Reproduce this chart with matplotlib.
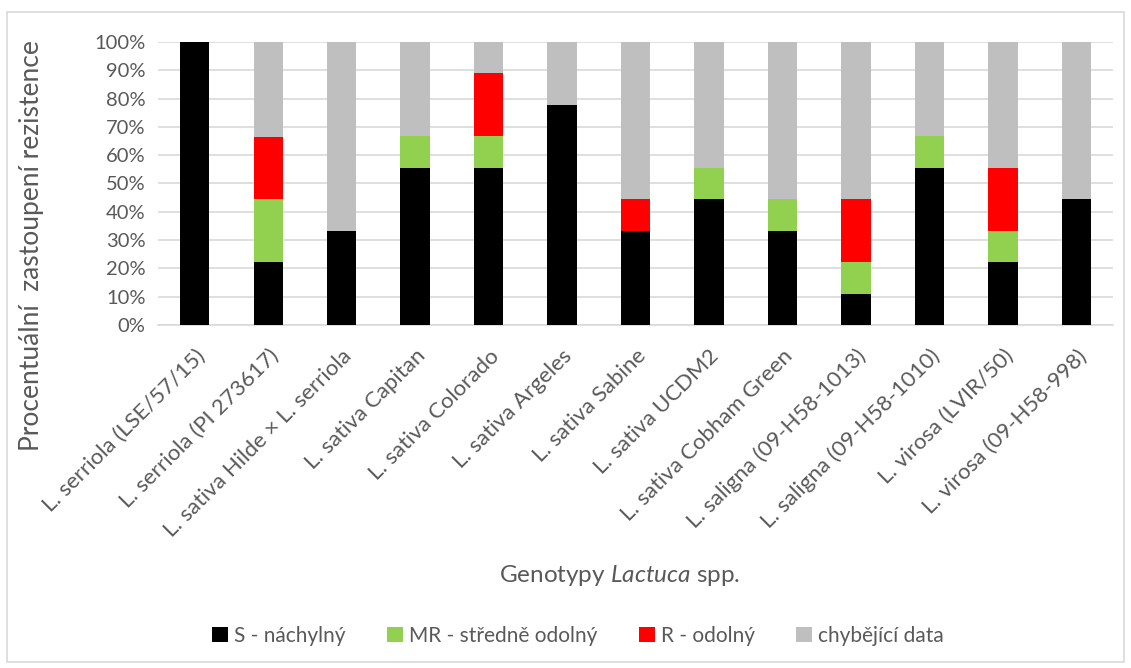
import matplotlib
matplotlib.use('Agg')
import matplotlib.pyplot as plt
import numpy as np
from matplotlib.patches import Rectangle

plt.rcParams['font.family'] = ['Lato', 'DejaVu Sans']
plt.rcParams['mathtext.fontset'] = 'custom'
plt.rcParams['mathtext.it'] = 'Lato:italic'
plt.rcParams['mathtext.rm'] = 'Lato'

genotypes = ['L. serriola (LSE/57/15)', 'L. serriola (PI 273617)',
             'L. sativa Hilde × L. serriola', 'L. sativa Capitan',
             'L. sativa Colorado', 'L. sativa Argeles', 'L. sativa Sabine',
             'L. sativa UCDM2', 'L. sativa Cobham Green',
             'L. saligna (09-H58-1013)', 'L. saligna (09-H58-1010)',
             'L. virosa (LVIR/50)', 'L. virosa (09-H58-998)']

# values in % (ninths)
s_nachylny = [100, 22.2, 33.3, 55.6, 55.6, 77.8, 33.3, 44.4, 33.3, 11.1, 55.6, 22.2, 44.4]
mr_odolny = [0, 22.2, 0, 11.1, 11.1, 0, 0, 11.1, 11.1, 11.1, 11.1, 11.1, 0]
r_odolny = [0, 22.2, 0, 0, 22.2, 0, 11.1, 0, 0, 22.2, 0, 22.2, 0]
chybejici = [0, 33.4, 66.7, 33.3, 11.1, 22.2, 55.6, 44.5, 55.6, 55.6, 33.3, 44.4, 55.6]

series = [('S - náchylný', s_nachylny, '#000000'),
          ('MR - středně odolný', mr_odolny, '#92D050'),
          ('R - odolný', r_odolny, '#FF0000'),
          ('chybějící data', chybejici, '#BFBFBF')]

txt = '#595959'
fig = plt.figure(figsize=(11.31, 6.68), dpi=100)
ax = fig.add_axes([158/1131, 1-325/668, 955/1131, 283/668])

x = np.arange(len(genotypes))
bottom = np.zeros(len(genotypes))
for name, vals, col in series:
    vals = np.array(vals) / 100
    ax.bar(x, vals, 0.4, bottom=bottom, color=col, label=name, zorder=3)
    bottom += vals

ax.set_xlim(-0.5, len(genotypes) - 0.5)
ax.set_ylim(0, 1)
ax.set_yticks(np.arange(0, 1.01, 0.1))
ax.set_yticklabels([f'{int(round(v*100))}%' for v in np.arange(0, 1.01, 0.1)])
ax.grid(axis='y', color='#D9D9D9', linewidth=1.2, zorder=0)
for sp in ax.spines.values():
    sp.set_visible(False)
ax.spines['bottom'].set_visible(True)
ax.spines['bottom'].set_color('#D9D9D9')
ax.spines['bottom'].set_linewidth(1.2)
ax.tick_params(axis='both', length=0, colors=txt)
ax.tick_params(axis='y', pad=9, labelsize=14.5)
ax.set_xticks(x)
ax.set_xticklabels(genotypes, rotation=45, ha='right', va='top', rotation_mode='anchor',
                   fontsize=16)
ax.tick_params(axis='x', pad=15)

fig.text(32/1131, 1 - 246/668, 'Procentuální  zastoupení rezistence', fontsize=19,
         color=txt, rotation=90, ha='center', va='center')
fig.text(620/1131, 1 - 575/668, r'Genotypy $\mathit{Lactuca}$ spp.', fontsize=17.5,
         color=txt, ha='center', va='center')

leg = fig.legend(loc='center', bbox_to_anchor=(578/1131, 1 - 636/668), ncol=4, frameon=False,
                 fontsize=15, handlelength=0.75, handleheight=0.75, handletextpad=0.3,
                 columnspacing=2.0, labelcolor=txt)

fig.patches.append(Rectangle((7/1131, 6/668), 1117/1131, 650/668, transform=fig.transFigure,
                             fill=False, edgecolor='#D9D9D9', linewidth=1.2))

plt.savefig('out.png', dpi=100)
